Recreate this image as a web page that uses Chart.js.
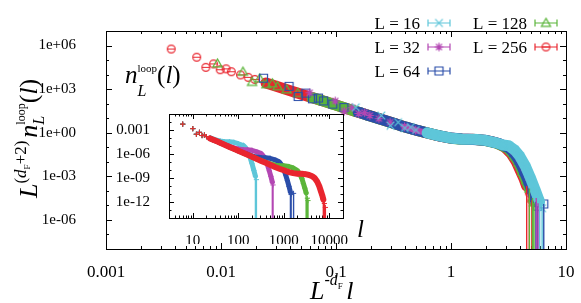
<!DOCTYPE html>
<html>
<head>
<meta charset="utf-8">
<script src="https://cdn.jsdelivr.net/npm/chart.js@4.4.1/dist/chart.umd.min.js"></script>
<style>
  html, body { margin: 0; padding: 0; background: #fff; }
  #wrap { position: relative; width: 581px; height: 303px; }
  #main { position: absolute; left: 0; top: 0; }
  #inset { position: absolute; left: 115px; top: 94px; }
</style>
</head>
<body>
<div id="wrap">
  <canvas id="main" width="581" height="303"></canvas>
  <canvas id="inset" width="255" height="150"></canvas>
</div>
<script>
// fractal dimension used for the collapse in the main panel
const dF = 4 / 3;

const sizeLabels = ["L = 16", "L = 32", "L = 64", "L = 128", "L = 256"];
const colors = ["#5ec6d9", "#b347b3", "#2b4ea9", "#5bb53a", "#e9262f"];

// loop length l and loop density n_L(l) per system size (raw data, as in the inset)
const l16 = [6, 10, 12, 14, 16, 18, 20, 25, 32, 40, 50, 64, 80, 100, 114, 128, 144, 160, 180, 200, 220, 238, 250];
const n16 = [5.4e-3, 1.48e-3, 2.95e-4, 5.1e-4, 2.04e-4, 2.34e-4, 1.48e-4, 9.5e-5, 5.9e-5, 4.2e-5, 3.5e-5,
  3.4e-5, 2.9e-5, 1.95e-5, 1.38e-5, 1.23e-5, 6.4e-6, 2.3e-6, 4.4e-7, 6.2e-8, 8.7e-9, 1.7e-9, 6.2e-10];

const l32 = [6, 10, 12, 14, 16, 18, 20, 24, 30, 40, 50, 64, 80, 100, 128, 160, 200, 256, 320, 360, 400, 440, 480, 520, 560, 580];
const n32 = [5.4e-3, 1.48e-3, 2.95e-4, 5.1e-4, 2.04e-4, 2.34e-4, 1.48e-4, 8.9e-5, 5.1e-5, 2.5e-5, 1.45e-5,
  8.9e-6, 5.9e-6, 4.2e-6, 3.5e-6, 3.3e-6, 2.9e-6, 1.9e-6, 1.15e-6, 5.1e-7, 1.66e-7, 3.8e-8, 7.9e-9, 1.6e-9,
  3.1e-10, 1.35e-10];

const l64 = [6, 10, 12, 14, 16, 18, 20, 24, 30, 40, 50, 64, 80, 100, 128, 160, 200, 256, 320, 400, 500, 640,
  800, 900, 1000, 1100, 1200, 1300, 1400, 1450, 1640];
const n64 = [5.4e-3, 1.48e-3, 2.95e-4, 5.1e-4, 2.04e-4, 2.34e-4, 1.48e-4, 8.9e-5, 5.1e-5, 2.5e-5, 1.42e-5,
  7.7e-6, 4.4e-6, 2.5e-6, 1.44e-6, 9.1e-7, 5.9e-7, 4.1e-7, 3.5e-7, 3.3e-7, 2.9e-7, 1.9e-7, 1.0e-7, 4.1e-8,
  1.2e-8, 2.4e-9, 4.8e-10, 8.9e-11, 1.7e-11, 8.5e-12, 1.2e-11];

const l128 = [6, 10, 12, 14, 16, 18, 20, 24, 30, 40, 50, 64, 80, 100, 130, 160, 200, 260, 320, 400, 500, 640,
  800, 1000, 1300, 1600, 2000, 2300, 2500, 2700, 2900, 3100, 3300, 3400];
const n128 = [5.4e-3, 1.48e-3, 2.95e-4, 5.1e-4, 2.04e-4, 2.34e-4, 1.48e-4, 8.9e-5, 5.1e-5, 2.5e-5, 1.42e-5,
  7.7e-6, 4.4e-6, 2.5e-6, 1.3e-6, 7.8e-7, 4.4e-7, 2.3e-7, 1.44e-7, 9.3e-8, 6.0e-8, 4.0e-8, 3.4e-8, 3.3e-8,
  2.7e-8, 1.8e-8, 8.5e-9, 2.4e-9, 8.4e-10, 2.0e-10, 5.3e-11, 1.37e-11, 3.0e-12, 1.5e-12];

const l256 = [6, 10, 12, 14, 16, 18, 20, 24, 28, 32, 40, 50, 64, 80, 100, 130, 160, 200, 250, 320, 400, 500,
  640, 800, 1000, 1300, 1600, 2000, 2500, 3000, 3600, 4200, 4800, 5400, 6000, 6600, 7000, 7400, 7800, 8200];
const n256 = [5.4e-3, 1.48e-3, 2.95e-4, 5.1e-4, 2.04e-4, 2.34e-4, 1.48e-4, 8.9e-5, 6.1e-5, 4.4e-5, 2.5e-5,
  1.42e-5, 7.7e-6, 4.4e-6, 2.5e-6, 1.3e-6, 7.8e-7, 4.4e-7, 2.5e-7, 1.37e-7, 7.9e-8, 4.5e-8, 2.4e-8, 1.45e-8,
  9.2e-9, 5.5e-9, 4.1e-9, 3.4e-9, 3.3e-9, 3.0e-9, 2.4e-9, 1.66e-9, 9.3e-10, 3.6e-10, 1.0e-10, 1.9e-11,
  6.8e-12, 2.0e-12, 6.6e-13, 2.1e-13];

// lengths whose error bar runs down to zero
const drop16 = [238, 250];
const drop32 = [560, 580];
const drop64 = [1400, 1450, 1640];
const drop128 = [3100, 3300, 3400];
const drop256 = [7400, 7800, 8200];

// tick labels
const mainXTicks = [0.001, 0.01, 0.1, 1, 10];
const mainXLabels = ["0.001", "0.01", "0.1", "1", "10"];
const mainYTicks = [1e-6, 1e-3, 1, 1e3, 1e6];
const mainYLabels = ["1e-06", "1e-03", "1e+00", "1e+03", "1e+06"];
const insetXTicks = [10, 100, 1000, 10000];
const insetXLabels = ["10", "100", "1000", "10000"];
const insetYTicks = [1e-12, 1e-9, 1e-6, 1e-3];
const insetYLabels = ["1e-12", "1e-09", "1e-06", "0.001"];

const FONT = '"Liberation Serif", "Times New Roman", serif';
const rm = s => s + "px " + FONT;
const it = s => "italic " + s + "px " + FONT;

// open gnuplot-like markers drawn on small canvases
function markerCanvas(kind, color) {
  const c = document.createElement("canvas");
  c.width = 13; c.height = 13;
  const g = c.getContext("2d");
  g.translate(6.5, 6.5);
  g.strokeStyle = color;
  g.lineWidth = 1.2;
  g.beginPath();
  if (kind === "x") {
    g.moveTo(-3.8, -3.8); g.lineTo(3.8, 3.8);
    g.moveTo(-3.8, 3.8); g.lineTo(3.8, -3.8);
  } else if (kind === "star") {
    g.moveTo(-4.2, 0); g.lineTo(4.2, 0);
    g.moveTo(0, -4.2); g.lineTo(0, 4.2);
    g.moveTo(-3, -3); g.lineTo(3, 3);
    g.moveTo(-3, 3); g.lineTo(3, -3);
  } else if (kind === "square") {
    g.rect(-4, -4, 8, 8);
  } else if (kind === "tri") {
    g.moveTo(0, -4.6); g.lineTo(4.6, 3.4); g.lineTo(-4.6, 3.4); g.closePath();
  } else {
    g.arc(0, 0, 3.9, 0, Math.PI * 2);
    g.moveTo(-3.9, 0); g.lineTo(3.9, 0);
  }
  g.stroke();
  return c;
}

// band: thickness of the dense part in the main panel, from: length where it starts
const series = [
  { L: 16, l: l16, n: n16, drop: drop16, color: colors[0], marker: "x", band: 11, from: 25 },
  { L: 32, l: l32, n: n32, drop: drop32, color: colors[1], marker: "star", band: 6, from: 40 },
  { L: 64, l: l64, n: n64, drop: drop64, color: colors[2], marker: "square", band: 11, from: 40 },
  { L: 128, l: l128, n: n128, drop: drop128, color: colors[3], marker: "tri", band: 11, from: 40 },
  { L: 256, l: l256, n: n256, drop: drop256, color: colors[4], marker: "circle", band: 11, from: 40 },
];
series.forEach(s => { s.img = markerCanvas(s.marker, s.color); });

function bandRange(s, from) {
  return [s.l.findIndex(v => v >= from), s.l.indexOf(s.drop[0])];
}

function curveSet(s, data, width, from, extra) {
  const [i0, i1] = bandRange(s, from);
  return Object.assign({
    data: data,
    showLine: true,
    borderColor: s.color,
    borderWidth: width,
    borderJoinStyle: "round",
    borderCapStyle: "round",
    segment: {
      borderColor: c => (c.p0DataIndex >= i0 && c.p1DataIndex <= i1) ? s.color : "rgba(0,0,0,0)"
    }
  }, extra);
}

function dropSet(s, pts, bottom) {
  const data = [];
  pts.forEach(p => { data.push({ x: p.x, y: p.y }, { x: p.x, y: bottom }, { x: p.x, y: null }); });
  return { data: data, showLine: true, borderColor: s.color, borderWidth: 1.4, pointRadius: 0 };
}

// main panel: collapsed data  x = l / L^dF ,  y = L^(dF+2) n_L(l)
const mainSets = [];
const mainDrops = [];
series.forEach(s => {
  const sx = Math.pow(s.L, dF);
  const sy = Math.pow(s.L, dF + 2);
  const pts = s.l.map((l, i) => ({ x: l / sx, y: s.n[i] * sy }));
  mainSets.push(curveSet(s, pts, s.band, s.from, { pointStyle: s.img, pointRadius: 4 }));
  mainDrops.push(dropSet(s, s.drop.map(l => pts[s.l.indexOf(l)]), 1e-10));
});

// inset: raw data, largest L on top
const insetSets = [];
const insetDrops = [];
series.slice().reverse().forEach(s => {
  const pts = s.l.map((l, i) => ({ x: l, y: s.n[i] }));
  insetSets.push(curveSet(s, pts, s.L === 256 ? 6 : 5, 24, {
    pointStyle: "cross", pointRadius: 2.6, pointBorderWidth: 1, pointBorderColor: s.color
  }));
  insetDrops.push(dropSet(s, s.drop.map(l => pts[s.l.indexOf(l)]), 1e-16));
});

// inward ticks on all four sides plus the frame
function frameTicks(chart, major, minor) {
  const { ctx, chartArea: a } = chart;
  const x = chart.scales.x, y = chart.scales.y;
  ctx.save();
  ctx.strokeStyle = "#000";
  ctx.lineWidth = 1;
  ctx.beginPath();
  for (let d = Math.floor(Math.log10(x.min) + 1e-9); d <= Math.ceil(Math.log10(x.max) - 1e-9); d++) {
    for (let k = 1; k <= 9; k++) {
      const v = k * Math.pow(10, d);
      if (v < x.min * 0.999 || v > x.max * 1.001) continue;
      const px = Math.round(x.getPixelForValue(v)) + 0.5;
      const len = k === 1 ? major : minor;
      ctx.moveTo(px, a.bottom); ctx.lineTo(px, a.bottom - len);
      ctx.moveTo(px, a.top); ctx.lineTo(px, a.top + len);
    }
  }
  for (let d = Math.ceil(Math.log10(y.min) - 1e-9); d <= Math.floor(Math.log10(y.max) + 1e-9); d++) {
    const py = Math.round(y.getPixelForValue(Math.pow(10, d))) + 0.5;
    const len = d % 3 === 0 ? major : minor;
    ctx.moveTo(a.left, py); ctx.lineTo(a.left + len, py);
    ctx.moveTo(a.right, py); ctx.lineTo(a.right - len, py);
  }
  ctx.stroke();
  ctx.strokeRect(Math.round(a.left) + 0.5, Math.round(a.top) + 0.5,
    Math.round(a.right - a.left), Math.round(a.bottom - a.top));
  ctx.restore();
}

// text made of runs with super/subscripts
function drawRuns(ctx, x, y, runs) {
  let cx = x;
  runs.forEach(r => {
    if (r.stack) {
      let w = 0;
      r.stack.forEach(s => {
        ctx.font = s.font;
        ctx.fillText(s.t, cx, y + s.dy);
        w = Math.max(w, ctx.measureText(s.t).width);
      });
      cx += w;
    } else {
      ctx.font = r.font;
      ctx.fillText(r.t, cx, y + (r.dy || 0));
      cx += ctx.measureText(r.t).width;
    }
  });
}

function nLoopRuns(big, sup, sub, upDy, downDy) {
  return [
    { t: "n", font: it(big) },
    { stack: [{ t: "loop", font: rm(sup), dy: upDy }, { t: "L", font: it(sub), dy: downDy }] },
    { t: "(", font: rm(big) }, { t: "l", font: it(big) }, { t: ")", font: rm(big) }
  ];
}

const mainDeco = {
  id: "mainDeco",
  beforeDatasetsDraw(chart) { frameTicks(chart, 6, 3); },
  afterDraw(chart) {
    const ctx = chart.ctx;
    ctx.save();
    ctx.fillStyle = "#000";
    ctx.textBaseline = "alphabetic";

    // legend
    const rows = [28.5, 52.5, 76.5];
    series.forEach((s, i) => {
      const col = i < 3 ? 0 : 1;
      const row = i < 3 ? i : i - 3;
      const tx = col ? 527 : 420;
      const cx = col ? 546 : 439;
      const by = rows[row];
      const cy = by - 5.5;
      ctx.font = rm(17);
      ctx.textAlign = "right";
      ctx.fillStyle = "#000";
      ctx.fillText(sizeLabels[i], tx, by);
      ctx.strokeStyle = s.color;
      ctx.lineWidth = 1.2;
      ctx.beginPath();
      ctx.moveTo(cx - 11, cy); ctx.lineTo(cx + 11, cy);
      ctx.moveTo(cx - 11, cy - 3.5); ctx.lineTo(cx - 11, cy + 3.5);
      ctx.moveTo(cx + 11, cy - 3.5); ctx.lineTo(cx + 11, cy + 3.5);
      ctx.stroke();
      ctx.drawImage(s.img, cx - 6.5, cy - 6.5);
    });
    ctx.textAlign = "left";
    ctx.fillStyle = "#000";

    // label of the inset
    drawRuns(ctx, 125, 83, nLoopRuns(25, 11, 16, -11, 13));
    // inset x label
    ctx.font = it(25);
    ctx.fillText("l", 357, 237);

    // x axis title
    drawRuns(ctx, 310, 299, [
      { t: "L", font: it(26) },
      { t: "-", font: rm(16), dy: -14 },
      { t: "d", font: it(16), dy: -14 },
      { t: "F", font: rm(9), dy: -10 },
      { t: " ", font: rm(14) },
      { t: "l", font: it(26) }
    ]);

    // y axis title
    ctx.translate(37, 198);
    ctx.rotate(-Math.PI / 2);
    drawRuns(ctx, 0, 0, [
      { t: "L", font: it(26) },
      { t: "(", font: rm(17), dy: -11 },
      { t: "d", font: it(17), dy: -11 },
      { t: "F", font: rm(9), dy: -7 },
      { t: "+2)", font: rm(17), dy: -11 },
      { t: " ", font: rm(12) }
    ].concat(nLoopRuns(26, 12, 16, -12, 7)));
    ctx.restore();
  }
};

const insetDeco = {
  id: "insetDeco",
  beforeDraw(chart) {
    const { ctx, chartArea: a } = chart;
    ctx.save();
    ctx.fillStyle = "#fff";
    ctx.fillRect(a.left, a.top, a.right - a.left, a.bottom - a.top);
    ctx.restore();
  },
  beforeDatasetsDraw(chart) { frameTicks(chart, 5, 2.5); }
};

function logAxis(min, max, ticks, labels, size, pad, fit) {
  return {
    type: "logarithmic",
    min: min,
    max: max,
    grid: { display: false },
    border: { display: false },
    afterBuildTicks: ax => { ax.ticks = ticks.map(v => ({ value: v })); },
    afterFit: fit,
    ticks: {
      autoSkip: false,
      maxRotation: 0,
      padding: pad,
      color: "#000",
      font: { family: FONT, size: size },
      callback: (v, i) => labels[i]
    }
  };
}

new Chart(document.getElementById("main"), {
  type: "scatter",
  data: { datasets: mainDrops.concat(mainSets) },
  options: {
    responsive: false,
    animation: false,
    events: [],
    devicePixelRatio: 1,
    layout: { padding: { left: 0, top: 1, right: 9, bottom: 0 } },
    plugins: { legend: { display: false }, tooltip: { enabled: false } },
    scales: {
      x: logAxis(0.001, 10, mainXTicks, mainXLabels, 17, 5, ax => { ax.height = 54; }),
      y: logAxis(1e-8, 1e7, mainYTicks, mainYLabels, 15, 22, ax => { ax.width = 106; })
    }
  },
  plugins: [mainDeco]
});

new Chart(document.getElementById("inset"), {
  type: "scatter",
  data: { datasets: insetDrops.concat(insetSets) },
  options: {
    responsive: false,
    animation: false,
    events: [],
    devicePixelRatio: 1,
    layout: { padding: { left: 0, top: 5, right: 27, bottom: 0 } },
    plugins: { legend: { display: false }, tooltip: { enabled: false } },
    scales: {
      x: logAxis(3, 20000, insetXTicks, insetXLabels, 15, 6, ax => { ax.height = 26; }),
      y: logAxis(1e-14, 1e-1, insetYTicks, insetYLabels, 15, 11, ax => { ax.width = 54; })
    }
  },
  plugins: [insetDeco]
});
</script>
</body>
</html>
